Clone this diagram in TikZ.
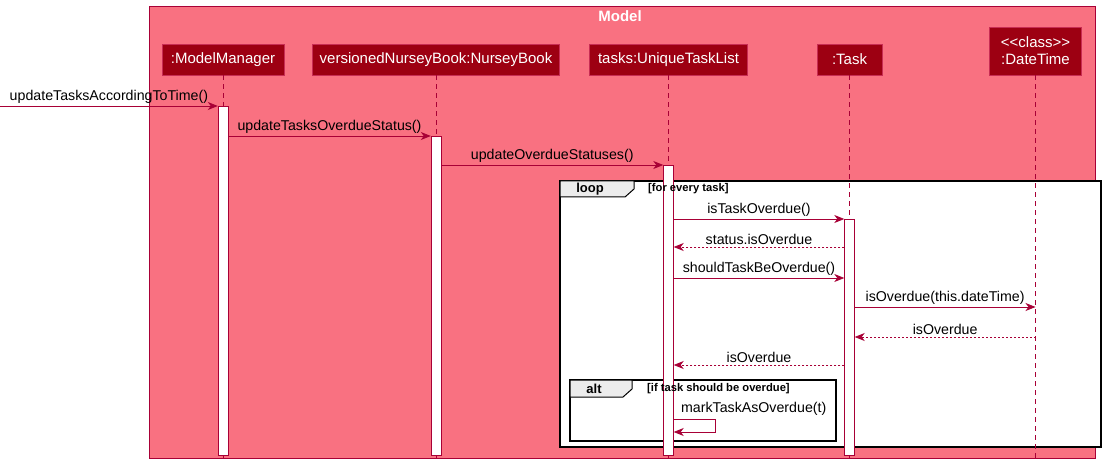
\documentclass[tikz,border=0pt]{standalone}
\usepackage{fontspec}
\setmainfont{Liberation Sans}
\usetikzlibrary{arrows.meta,calc}
\definecolor{modelbg}{HTML}{F97181}
\definecolor{modelfg}{HTML}{9D0012}
\definecolor{umlline}{HTML}{A80036}

\begin{document}
\begin{tikzpicture}[x=1pt,y=-1pt,
	part/.style={draw=umlline!60!modelbg, fill=modelfg, text=white, inner sep=0pt,
	minimum height=31, font=\fontsize{15}{17}\selectfont},
	act/.style={draw=umlline, fill=white, minimum width=10, inner sep=0pt, anchor=north},
	life/.style={draw=umlline, dash pattern=on 5pt off 4pt},
	msg/.style={draw=umlline, line width=0.8pt, -{Stealth[length=10pt,width=8pt,inset=3pt]}},
	ret/.style={msg, dash pattern=on 2pt off 2pt},
	lbl/.style={midway, above=1pt, inner sep=1pt, font=\fontsize{14.2}{16}\selectfont},
	frame/.style={draw=black, line width=1.6pt, fill=white},
	tab/.style={draw=black, line width=1pt, fill=gray!15},
	tabname/.style={font=\bfseries\fontsize{13}{15}\selectfont},
	guard/.style={anchor=west, inner sep=0pt, font=\bfseries\fontsize{11.2}{13}\selectfont}]

\useasboundingbox (0,0) rectangle (1106,470);

\draw[umlline, fill=modelbg] (149,6) rectangle (1095,458);
\node[text=white, font=\bfseries\fontsize{15}{17}\selectfont] (mTitle) at (620,16) {Model};

\draw[frame] (560,181) rectangle (1101,447);
\draw[tab] (560,181) -- (634,181) -- (634,189) -- (625,197) -- (560,197) -- cycle;
\node[tabname] (loopT) at (590,189) {loop};

\draw[frame] (570,380) rectangle (836,441);
\draw[tab] (570,380) -- (632,380) -- (632,389) -- (623,397) -- (570,397) -- cycle;
\node[tabname] (altT) at (594,389) {alt};

\node[part, minimum width=122] (pMM) at (223,59.5) {:ModelManager};
\node[part, minimum width=247] (pNB) at (436,59.5) {versionedNurseyBook:NurseyBook};
\node[part, minimum width=158] (pTL) at (668.5,59.5) {tasks:UniqueTaskList};
\node[part, minimum width=65] (pT) at (849.5,59.5) {:Task};
\node[part, minimum width=92, minimum height=48, align=center] (pDT) at (1035.5,51)
	{<{}<class>{}>\\:DateTime};

\coordinate (bot) at (0,460);
\draw[life] (pMM.south) -- (pMM.south |- bot);
\draw[life] (pNB.south) -- (pNB.south |- bot);
\draw[life] (pTL.south) -- (pTL.south |- bot);
\draw[life] (pT.south) -- (pT.south |- bot);
\draw[life] (pDT.south) -- (pDT.south |- bot);

\coordinate (r1) at (0,106);
\coordinate (r2) at (0,136);
\coordinate (r3) at (0,165);
\coordinate (r4) at (0,219);
\coordinate (r5) at (0,247);
\coordinate (r6) at (0,278);
\coordinate (r7) at (0,307);
\coordinate (r8) at (0,337);
\coordinate (r9) at (0,365);
\coordinate (r10) at (0,419);
\coordinate (r11) at (0,432);

\node[act, minimum height=349] (aMM) at (pMM.south |- r1) {};
\node[act, minimum height=319] (aNB) at (pNB.south |- r2) {};
\node[act, minimum height=290] (aTL) at (pTL.south |- r3) {};
\node[act, minimum height=236] (aT) at (pT.south |- r4) {};

\node[guard] (loopG) at (648,189) {[for every task]};
\node[guard] (altG) at (647,389) {[if task should be overdue]};

\draw[msg] (r1) -- (aMM.west |- r1) node[lbl] {updateTasksAccordingToTime()};
\draw[msg] (aMM.east |- r2) -- (aNB.west |- r2) node[lbl] {updateTasksOverdueStatus()};
\draw[msg] (aNB.east |- r3) -- (aTL.west |- r3) node[lbl] {updateOverdueStatuses()};
\draw[msg] (aTL.east |- r4) -- (aT.west |- r4) node[lbl] {isTaskOverdue()};
\draw[ret] (aT.west |- r5) -- (aTL.east |- r5) node[lbl] {status.isOverdue};
\draw[msg] (aTL.east |- r6) -- (aT.west |- r6) node[lbl] {shouldTaskBeOverdue()};
\draw[msg] (aT.east |- r7) -- (pDT.south |- r7) node[lbl] {isOverdue(this.dateTime)};
\draw[ret] (pDT.south |- r8) -- (aT.east |- r8) node[lbl] {isOverdue};
\draw[ret] (aT.west |- r9) -- (aTL.east |- r9) node[lbl] {isOverdue};
\draw[msg] (aTL.east |- r10)
	node[anchor=south west, xshift=6pt, yshift=2pt, inner sep=1pt, font=\fontsize{14.2}{16}\selectfont]
	{markTaskAsOverdue(t)}
	-- ++(42,0) |- (aTL.east |- r11);
\end{tikzpicture}
\end{document}
